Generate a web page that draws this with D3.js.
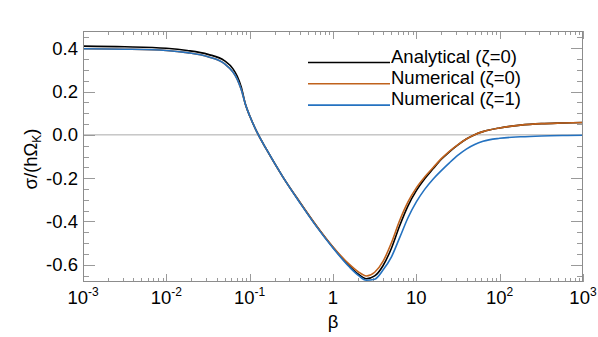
<!DOCTYPE html>
<html><head><meta charset="utf-8">
<script src="https://cdn.jsdelivr.net/npm/d3@7"></script>
<style>
html,body{margin:0;padding:0;background:#fff;}
text{font-family:"Liberation Sans",Arial,Helvetica,sans-serif;}
</style></head>
<body><svg id="c" width="598" height="337"></svg>
<script>
// ---- data ----
const beta = [0.001, 0.00316, 0.01, 0.0178, 0.0316, 0.0501, 0.0631, 0.0708, 0.0794, 0.0891,
  0.1, 0.126, 0.158, 0.251, 0.398, 0.631, 1, 1.585, 1.995, 2.512,
  3.162, 3.981, 5.012, 6.310, 7.943, 10, 12.59, 15.85, 19.95, 25.12,
  31.62, 39.81, 50.12, 63.10, 100, 177.8, 316.2, 562.3, 1000];
const analytical0 = [0.410, 0.407, 0.400, 0.390, 0.372, 0.342, 0.305, 0.272, 0.220, 0.140,
  0.088, 0.003, -0.065, -0.195, -0.310, -0.420, -0.520, -0.608, -0.643, -0.665,
  -0.652, -0.605, -0.525, -0.420, -0.328, -0.258, -0.203, -0.157, -0.113, -0.077,
  -0.046, -0.019, 0.001, 0.015, 0.032, 0.045, 0.052, 0.055, 0.057];
const numerical0 = [0.398, 0.396, 0.390, 0.380, 0.361, 0.328, 0.290, 0.258, 0.208, 0.140,
  0.088, 0.003, -0.065, -0.195, -0.310, -0.420, -0.518, -0.600, -0.632, -0.652,
  -0.635, -0.585, -0.500, -0.396, -0.310, -0.245, -0.195, -0.152, -0.110, -0.075,
  -0.045, -0.019, 0.001, 0.015, 0.032, 0.045, 0.052, 0.055, 0.057];
const numerical1 = [0.398, 0.396, 0.390, 0.380, 0.361, 0.328, 0.290, 0.258, 0.208, 0.140,
  0.088, 0.003, -0.065, -0.195, -0.312, -0.423, -0.523, -0.612, -0.648, -0.672,
  -0.667, -0.625, -0.565, -0.475, -0.383, -0.310, -0.252, -0.205, -0.165, -0.128,
  -0.094, -0.066, -0.045, -0.030, -0.016, -0.009, -0.005, -0.003, -0.002];
const seriesNames = ["Analytical (\u03B6=0)", "Numerical (\u03B6=0)", "Numerical (\u03B6=1)"];
const seriesColors = ["#000000", "#c0621c", "#2472c0"];
const xTickExp = [-3, -2, -1, 0, 1, 2, 3];
const yTickValues = [0.4, 0.2, 0.0, -0.2, -0.4, -0.6];
const yTickLabels = ["0.4", "0.2", "0.0", "-0.2", "-0.4", "-0.6"];

// ---- layout ----
const L = 83, R = 583, T = 31, B = 282;
const FS = 18.5;
const x = d3.scaleLog().domain([1e-3, 1e3]).range([L, R]);
const y = d3.scaleLinear().domain([-0.68, 0.48]).range([B, T]);
const svg = d3.select("#c");
const tickCol = "#9a9a9a";

// zero line
svg.append("line").attr("x1", L).attr("x2", R).attr("y1", y(0)).attr("y2", y(0))
  .attr("stroke", "#aaaaaa").attr("stroke-width", 1);

// x ticks (bottom & top)
const xMinor = [];
for (let e = -3; e < 3; e++) for (let m = 2; m <= 9; m++) xMinor.push(m * Math.pow(10, e));
const xMajor = xTickExp.map(e => Math.pow(10, e));
const g = svg.append("g").attr("stroke", tickCol).attr("stroke-width", 1);
[[xMajor, 8], [xMinor, 4]].forEach(([vals, len]) => {
  g.selectAll(null).data(vals).enter().append("line")
    .attr("x1", d => Math.round(x(d)) + 0.5).attr("x2", d => Math.round(x(d)) + 0.5)
    .attr("y1", B).attr("y2", B - len);
  g.selectAll(null).data(vals).enter().append("line")
    .attr("x1", d => Math.round(x(d)) + 0.5).attr("x2", d => Math.round(x(d)) + 0.5)
    .attr("y1", T).attr("y2", T + len);
});
// y ticks (left & right)
const yMinor = d3.range(-13, 10).map(i => i * 0.05).filter(v => Math.abs(Math.round(v * 10) / 10 - v) > 1e-6 || Math.round(v * 10) % 2 !== 0);
[[yTickValues, 12], [yMinor, 6]].forEach(([vals, len]) => {
  g.selectAll(null).data(vals).enter().append("line")
    .attr("x1", L).attr("x2", L + len)
    .attr("y1", d => Math.round(y(d)) + 0.5).attr("y2", d => Math.round(y(d)) + 0.5);
  g.selectAll(null).data(vals).enter().append("line")
    .attr("x1", R).attr("x2", R - len)
    .attr("y1", d => Math.round(y(d)) + 0.5).attr("y2", d => Math.round(y(d)) + 0.5);
});

// curves
const line = d3.line().x(d => x(d[0])).y(d => y(d[1])).curve(d3.curveMonotoneX);
[analytical0, numerical0, numerical1].forEach((vals, i) => {
  svg.append("path").datum(beta.map((b, j) => [b, vals[j]]))
    .attr("d", line).attr("fill", "none")
    .attr("stroke", seriesColors[i]).attr("stroke-width", 1.6);
});

// frame
svg.append("rect").attr("x", L + 0.5).attr("y", T + 0.5).attr("width", R - L - 1).attr("height", B - T - 1)
  .attr("fill", "none").attr("stroke", "#8c8c8c").attr("stroke-width", 1);

// y labels
svg.selectAll(null).data(yTickValues).enter().append("text")
  .attr("x", 78).attr("y", d => y(d) + 6.5).attr("text-anchor", "end")
  .attr("font-size", FS).attr("fill", "#000").text((d, i) => yTickLabels[i]);

// x labels
xTickExp.forEach(e => {
  const t = svg.append("text").attr("x", x(Math.pow(10, e))).attr("y", 304)
    .attr("text-anchor", "middle").attr("font-size", FS).attr("fill", "#000");
  if (e === 0) t.text("1");
  else if (e === 1) t.text("10");
  else {
    t.append("tspan").text("10");
    t.append("tspan").attr("font-size", 12).attr("dy", -8).text(String(e));
  }
});

// axis titles
svg.append("text").attr("x", x(1)).attr("y", 328).attr("text-anchor", "middle")
  .attr("font-size", FS).text("\u03B2");
const yl = svg.append("text").attr("transform", "translate(37,159) rotate(-90)")
  .attr("text-anchor", "middle").attr("font-size", FS);
yl.append("tspan").text("\u03C3/(h\u03A9");
yl.append("tspan").attr("font-size", 12).attr("dy", 4).text("K");
yl.append("tspan").attr("dy", -4).text(")");

// legend
seriesNames.forEach((name, i) => {
  const ly = 62.5 + i * 21.3;
  svg.append("line").attr("x1", 308).attr("x2", 390).attr("y1", ly).attr("y2", ly)
    .attr("stroke", seriesColors[i]).attr("stroke-width", 1.6);
  svg.append("text").attr("x", 391).attr("y", ly).attr("font-size", FS).text(name);
});
</script></body></html>
